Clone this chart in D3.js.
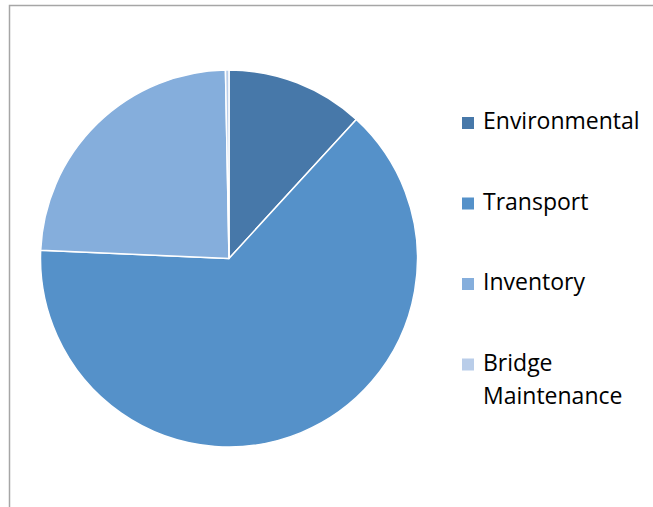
<!DOCTYPE html>
<html>
<head>
<meta charset="utf-8">
<script src="https://cdn.jsdelivr.net/npm/d3@7"></script>
<style>
  body { margin: 0; background: #fff; }
  svg { display: block; }
</style>
</head>
<body>
<svg></svg>
<script>
  const width = 653;
  const height = 507;

  // data (percent of total)
  const categories = ['Environmental', 'Transport', 'Inventory', 'Bridge Maintenance'];
  const values = [11.8, 63.9, 24.0, 0.3];
  const colors = ['#4778a9', '#5591c9', '#85aedc', '#b9cde9'];
  const legendLines = [['Environmental'], ['Transport'], ['Inventory'], ['Bridge', 'Maintenance']];

  const svg = d3.select('svg').attr('width', width).attr('height', height);

  // chart frame (runs off the right and bottom)
  svg.append('rect')
      .attr('x', 9.5).attr('y', 5.5)
      .attr('width', 700).attr('height', 600)
      .attr('fill', 'none')
      .attr('stroke', '#a6a6a6')
      .attr('stroke-width', 1.5);

  const cx = 229, cy = 258.5, radius = 188.5;

  const pie = d3.pie().sort(null).value(d => d);
  const arc = d3.arc().innerRadius(0).outerRadius(radius);

  const g = svg.append('g').attr('transform', `translate(${cx},${cy})`);
  g.selectAll('path')
      .data(pie(values))
      .enter().append('path')
      .attr('d', arc)
      .attr('fill', (d, i) => colors[i])
      .attr('stroke', '#fff')
      .attr('stroke-width', 1.5)
      .attr('stroke-linejoin', 'round');

  // legend
  const legend = svg.append('g');
  const rows = legend.selectAll('g')
      .data(categories)
      .enter().append('g')
      .attr('transform', (d, i) => `translate(462,${129 + i * 80.5})`);

  rows.append('rect')
      .attr('x', 0).attr('y', -12)
      .attr('width', 12).attr('height', 12)
      .attr('fill', (d, i) => colors[i]);

  rows.append('text')
      .attr('x', 21)
      .style('font-family', '"Open Sans", sans-serif')
      .style('font-size', '23px')
      .attr('fill', '#000')
      .selectAll('tspan')
      .data((d, i) => legendLines[i])
      .enter().append('tspan')
      .attr('x', 21)
      .attr('y', (d, j) => j * 33)
      .text(d => d);
</script>
</body>
</html>
